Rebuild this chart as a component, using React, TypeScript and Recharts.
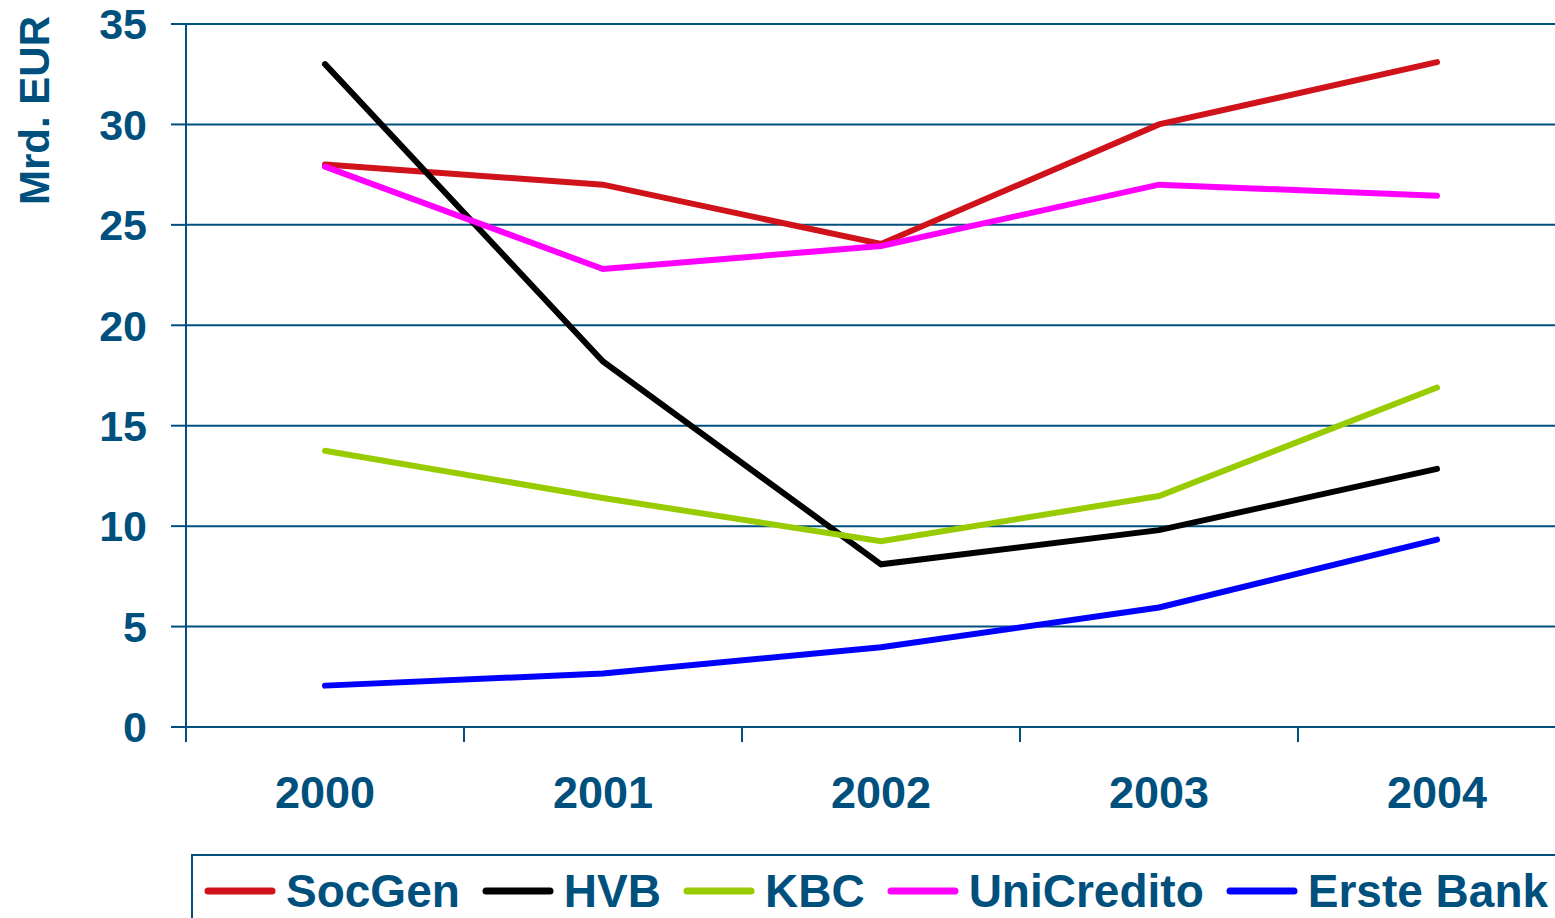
import React from 'react';
import { LineChart, Line, XAxis, YAxis, CartesianGrid } from 'recharts';

const years = ['2000', '2001', '2002', '2003', '2004'];
const socGen = [28, 27, 24.05, 30, 33.1];
const hvb = [33, 18.2, 8.1, 9.8, 12.85];
const kbc = [13.75, 11.4, 9.25, 11.5, 16.9];
const uniCredito = [27.9, 22.8, 23.95, 27, 26.45];
const ersteBank = [2.06, 2.66, 3.97, 5.95, 9.33];
const yTicks = [0, 5, 10, 15, 20, 25, 30, 35];

const seriesNames = ['SocGen', 'HVB', 'KBC', 'UniCredito', 'Erste Bank'];
const seriesValues = [socGen, hvb, kbc, uniCredito, ersteBank];
const seriesColors = ['#D0121B', '#000000', '#99CC00', '#FF00FF', '#0000FF'];

const TEXT = '#00507E';
const FONT = '"Liberation Sans", Arial, sans-serif';

const CHART_W = 1600;
const CHART_H = 918;
const MARGIN = { top: 24, right: 24, left: 86, bottom: 130 };
const Y_AXIS_W = 100;
const PLOT_W = CHART_W - MARGIN.left - MARGIN.right - Y_AXIS_W;
const HALF_BAND = PLOT_W / years.length / 2;

const data = years.map((y, i) => {
  const row: Record<string, string | number> = { year: y };
  seriesNames.forEach((n, k) => {
    row[n] = seriesValues[k][i];
  });
  return row;
});

const XTick = (props: any) => {
  const { x, y, payload } = props;
  return (
    <g>
      <line x1={x - HALF_BAND} x2={x - HALF_BAND} y1={y} y2={y + 15} stroke={TEXT} strokeWidth={2} />
      <text x={x} y={y + 81} textAnchor="middle" fill={TEXT} fontSize={45} fontWeight={700} fontFamily={FONT}>
        {payload.value}
      </text>
    </g>
  );
};

const YLabel = () => (
  <text
    x={49}
    y={110.5}
    transform="rotate(-90, 49, 110.5)"
    textAnchor="middle"
    fill={TEXT}
    fontSize={42}
    fontWeight={700}
    fontFamily={FONT}
  >
    Mrd. EUR
  </text>
);

export default function App() {
  return (
    <div
      style={{
        position: 'fixed',
        left: 0,
        top: 0,
        width: 1555,
        height: 918,
        overflow: 'hidden',
        background: '#fff',
        fontFamily: FONT,
      }}
    >
      <LineChart width={CHART_W} height={CHART_H} data={data} margin={MARGIN}>
        <CartesianGrid horizontal vertical={false} stroke={TEXT} strokeWidth={2} />
        <XAxis
          dataKey="year"
          height={61}
          interval={0}
          padding={{ left: HALF_BAND, right: HALF_BAND }}
          tickLine={false}
          tickSize={0}
          tickMargin={0}
          axisLine={{ stroke: TEXT, strokeWidth: 2 }}
          tick={<XTick />}
        />
        <YAxis
          width={Y_AXIS_W}
          domain={[0, 35]}
          ticks={yTicks}
          interval={0}
          tickSize={15}
          tickMargin={24}
          axisLine={{ stroke: TEXT, strokeWidth: 2 }}
          tickLine={{ stroke: TEXT, strokeWidth: 2 }}
          tick={{ fill: TEXT, fontSize: 43, fontWeight: 700, fontFamily: FONT }}
          label={<YLabel />}
        />
        {seriesNames.map((n, k) => (
          <Line
            key={n}
            type="linear"
            dataKey={n}
            stroke={seriesColors[k]}
            strokeWidth={6}
            strokeLinecap="round"
            dot={false}
            activeDot={false}
            isAnimationActive={false}
          />
        ))}
      </LineChart>
      <div
        style={{
          position: 'absolute',
          left: 191,
          top: 854,
          width: 1500,
          height: 120,
          border: `2px solid ${TEXT}`,
          boxSizing: 'border-box',
          paddingTop: 12,
          paddingLeft: 11,
          display: 'flex',
          alignItems: 'flex-start',
        }}
      >
        {seriesNames.map((n, k) => (
          <div
            key={n}
            style={{ display: 'flex', alignItems: 'center', marginRight: 22, height: 46, whiteSpace: 'nowrap' }}
          >
            <svg width={72} height={10} style={{ display: 'block', marginRight: 10 }}>
              <line x1={4} x2={68} y1={5} y2={5} stroke={seriesColors[k]} strokeWidth={7} strokeLinecap="round" />
            </svg>
            <span style={{ color: TEXT, fontSize: 46, fontWeight: 700, lineHeight: '46px' }}>{n}</span>
          </div>
        ))}
      </div>
    </div>
  );
}
